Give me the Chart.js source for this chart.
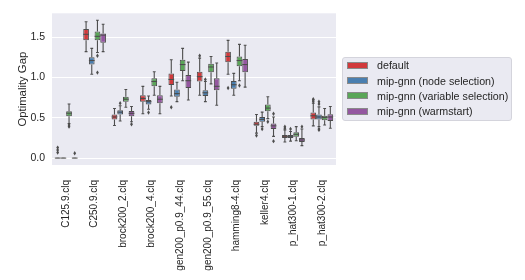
<!DOCTYPE html>
<html>
<head>
<meta charset="utf-8">
<script src="https://cdn.jsdelivr.net/npm/chart.js@4/dist/chart.umd.min.js"></script>
<style>
  html, body { margin: 0; padding: 0; background: #fff; }
  #wrap { position: relative; width: 525px; height: 280px; }
  #legend {
    position: absolute; left: 342px; top: 57px; width: 170px; height: 64px;
    background: #eaeaf2; border: 1px solid #d4d4dc; border-radius: 3px;
    font-family: "Liberation Sans", Arial, sans-serif; font-size: 10.7px; color: #262626;
    box-sizing: border-box;
  }
  .row { position: absolute; left: 0; height: 14px; line-height: 14px; white-space: nowrap; }
  .sw { position: absolute; left: 4px; top: 3.5px; width: 21px; height: 7px; box-sizing: border-box; border: 1px solid #8a8a8a; }
  .tx { position: absolute; left: 34px; top: 0; }
</style>
</head>
<body>
<div id="wrap">
  <canvas id="chart" width="525" height="280"></canvas>
  <div id="legend"></div>
</div>
<script>
'use strict';

// instances on the x axis
const categories = ['C125.9.clq', 'C250.9.clq', 'brock200_2.clq', 'brock200_4.clq',
  'gen200_p0.9_44.clq', 'gen200_p0.9_55.clq', 'hamming8-4.clq', 'keller4.clq',
  'p_hat300-1.clq', 'p_hat300-2.clq'];

const seriesNames = ['default', 'mip-gnn (node selection)', 'mip-gnn (variable selection)', 'mip-gnn (warmstart)'];
const seriesColors = ['#d13a3c', '#4a7fb0', '#5aa658', '#9457a0'];

// [lower whisker, q1, median, q3, upper whisker] per instance
const defaultStats = [
  [0, 0, 0, 0, 0], [1.32, 1.46, 1.535, 1.60, 1.69], [0.405, 0.48, 0.51, 0.54, 0.615],
  [0.55, 0.70, 0.74, 0.78, 0.89], [0.77, 0.905, 0.975, 1.05, 1.22], [0.78, 0.95, 1.01, 1.07, 1.24],
  [1.04, 1.19, 1.26, 1.32, 1.46], [0.31, 0.40, 0.42, 0.45, 0.54], [0.20, 0.25, 0.265, 0.287, 0.35],
  [0.40, 0.48, 0.525, 0.565, 0.68]
];
const nodeStats = [
  [0, 0, 0, 0, 0], [1.04, 1.16, 1.21, 1.25, 1.36], [0.46, 0.54, 0.57, 0.594, 0.65],
  [0.605, 0.665, 0.70, 0.72, 0.77], [0.70, 0.76, 0.80, 0.85, 0.94], [0.70, 0.77, 0.81, 0.84, 0.95],
  [0.78, 0.86, 0.91, 0.955, 1.05], [0.39, 0.45, 0.48, 0.51, 0.57], [0.21, 0.25, 0.27, 0.287, 0.33],
  [0.39, 0.48, 0.51, 0.54, 0.635]
];
const varStats = [
  [0.43, 0.52, 0.557, 0.58, 0.67], [1.31, 1.46, 1.51, 1.57, 1.71], [0.63, 0.70, 0.73, 0.76, 0.85],
  [0.78, 0.89, 0.95, 0.99, 1.07], [0.96, 1.08, 1.16, 1.22, 1.36], [0.92, 1.065, 1.13, 1.17, 1.26],
  [0.96, 1.14, 1.21, 1.26, 1.41], [0.49, 0.58, 0.62, 0.665, 0.76], [0.215, 0.265, 0.295, 0.32, 0.39],
  [0.41, 0.47, 0.505, 0.525, 0.615]
];
const warmStats = [
  [0, 0, 0, 0, 0], [1.32, 1.43, 1.525, 1.545, 1.66], [0.45, 0.52, 0.555, 0.585, 0.64],
  [0.55, 0.68, 0.73, 0.78, 0.89], [0.72, 0.87, 0.96, 1.03, 1.19], [0.655, 0.84, 0.89, 0.99, 1.18],
  [0.88, 1.065, 1.16, 1.23, 1.40], [0.27, 0.36, 0.40, 0.43, 0.51], [0.155, 0.20, 0.225, 0.25, 0.36],
  [0.37, 0.46, 0.51, 0.545, 0.64]
];

// fliers per instance
const defaultOut = [[0.07, 0.10, 0.13], [], [], [], [0.63], [1.27], [0.87], [0.28], [0.37, 0.39], [0.70, 0.72, 0.73]];
const nodeOut = [[], [], [0.68], [0.565], [], [0.975], [], [0.36], [0.36], [0.67, 0.70, 0.36, 0.35]];
const varOut = [[0.39, 0.41], [1.06, 1.27], [], [], [], [], [0.90], [0.45], [], []];
const warmOut = [[0.06], [], [0.42], [], [], [], [], [0.55, 0.21], [0.39], []];

const yTicks = [0, 0.5, 1.0, 1.5];

const allStats = [defaultStats, nodeStats, varStats, warmStats];
const allOut = [defaultOut, nodeOut, varOut, warmOut];
const lineGray = '#4d4d4d';
const FONT = '"Liberation Sans", Arial, sans-serif';

const boxPlugin = {
  id: 'boxParts',
  beforeDraw: function(chart) {
    const a = chart.chartArea, ctx = chart.ctx;
    ctx.save();
    ctx.fillStyle = '#eaeaf2';
    ctx.fillRect(a.left, a.top, a.right - a.left, a.bottom - a.top);
    ctx.restore();
  },
  beforeDatasetsDraw: function(chart) {
    const ctx = chart.ctx, y = chart.scales.y;
    ctx.save();
    ctx.strokeStyle = lineGray;
    ctx.lineWidth = 1.1;
    allStats.forEach(function(stats, i) {
      chart.getDatasetMeta(i).data.forEach(function(bar, j) {
        const s = stats[j], cap = bar.width / 4;
        ctx.beginPath();
        ctx.moveTo(bar.x, y.getPixelForValue(s[4]));
        ctx.lineTo(bar.x, y.getPixelForValue(s[3]));
        ctx.moveTo(bar.x, y.getPixelForValue(s[1]));
        ctx.lineTo(bar.x, y.getPixelForValue(s[0]));
        ctx.moveTo(bar.x - cap, y.getPixelForValue(s[4]));
        ctx.lineTo(bar.x + cap, y.getPixelForValue(s[4]));
        ctx.moveTo(bar.x - cap, y.getPixelForValue(s[0]));
        ctx.lineTo(bar.x + cap, y.getPixelForValue(s[0]));
        ctx.stroke();
      });
    });
    ctx.restore();
  },
  afterDatasetsDraw: function(chart) {
    const ctx = chart.ctx, y = chart.scales.y;
    ctx.save();
    allStats.forEach(function(stats, i) {
      chart.getDatasetMeta(i).data.forEach(function(bar, j) {
        const s = stats[j], half = bar.width / 2;
        const flat = s[4] === s[0];
        ctx.strokeStyle = flat ? '#8c8c8c' : lineGray;
        ctx.lineWidth = flat ? 1.6 : 1.1;
        ctx.beginPath();
        ctx.moveTo(bar.x - half, y.getPixelForValue(s[2]));
        ctx.lineTo(bar.x + half, y.getPixelForValue(s[2]));
        ctx.stroke();
        ctx.fillStyle = lineGray;
        allOut[i][j].forEach(function(v) {
          const py = y.getPixelForValue(v);
          ctx.beginPath();
          ctx.moveTo(bar.x, py - 2.2);
          ctx.lineTo(bar.x + 1.4, py);
          ctx.lineTo(bar.x, py + 2.2);
          ctx.lineTo(bar.x - 1.4, py);
          ctx.closePath();
          ctx.fill();
        });
      });
    });
    ctx.restore();
  }
};

const datasets = seriesNames.map(function(name, i) {
  return {
    label: name,
    data: allStats[i].map(function(s) { return [s[1], s[3]]; }),
    backgroundColor: seriesColors[i],
    borderColor: lineGray,
    borderWidth: 1,
    borderSkipped: false,
    barPercentage: 1,
    categoryPercentage: 0.8
  };
});

new Chart(document.getElementById('chart'), {
  type: 'bar',
  data: { labels: categories, datasets: datasets },
  options: {
    responsive: false,
    animation: false,
    layout: { padding: { left: 0, right: 189, top: 13, bottom: 0 } },
    plugins: { legend: { display: false }, tooltip: { enabled: false } },
    scales: {
      x: {
        grid: { display: false },
        border: { display: false },
        ticks: {
          minRotation: 90, maxRotation: 90, padding: 7, autoSkip: false,
          color: '#262626', font: { family: FONT, size: 10 }
        },
        afterFit: function(scale) { scale.height = 115; }
      },
      y: {
        min: -0.0855,
        max: 1.7955,
        afterBuildTicks: function(scale) {
          scale.ticks = yTicks.map(function(v) { return { value: v }; });
        },
        grid: { color: '#ffffff', lineWidth: 1, drawTicks: false },
        border: { display: false },
        ticks: {
          padding: 7, color: '#262626', font: { family: FONT, size: 10.5 },
          callback: function(v) { return Number(v).toFixed(1); }
        },
        title: {
          display: true, text: 'Optimality Gap', color: '#262626',
          font: { family: FONT, size: 11.3 }, padding: { top: 16, bottom: 0 }
        },
        afterFit: function(scale) { scale.width = 52; }
      }
    }
  },
  plugins: [boxPlugin]
});

const legend = document.getElementById('legend');
seriesNames.forEach(function(name, i) {
  const row = document.createElement('div');
  row.className = 'row';
  row.style.top = (0.3 + 15.33 * i) + 'px';
  row.innerHTML = '<span class="sw" style="background:' + seriesColors[i] + '"></span><span class="tx">' + name + '</span>';
  legend.appendChild(row);
});
</script>
</body>
</html>
